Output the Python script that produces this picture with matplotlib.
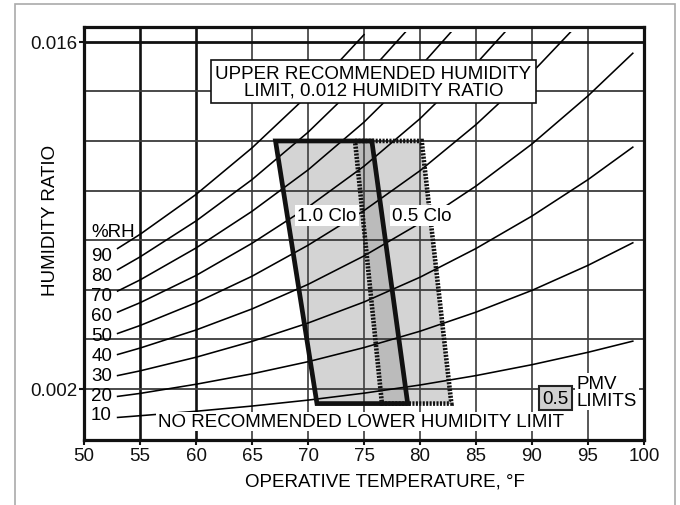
import numpy as np
import matplotlib
matplotlib.use("Agg")
import matplotlib.pyplot as plt
from matplotlib.patches import Polygon, Rectangle

plt.rcParams['font.family'] = ['Liberation Sans', 'DejaVu Sans']

temps_f = [53, 55, 60, 65, 70, 75, 80, 85, 90, 95, 99]
rh_levels = [10, 20, 30, 40, 50, 60, 70, 80, 90]

# humidity ratio along each RH curve
w_rh10 = [0.00084, 0.00091, 0.00109, 0.00130, 0.00154, 0.00182, 0.00215, 0.00253, 0.00297, 0.00347, 0.00392]
w_rh20 = [0.00169, 0.00181, 0.00218, 0.00260, 0.00309, 0.00366, 0.00432, 0.00509, 0.00597, 0.00698, 0.00789]
w_rh30 = [0.00253, 0.00272, 0.00327, 0.00391, 0.00465, 0.00550, 0.00650, 0.00766, 0.00897, 0.01044, 0.01175]
w_rh40 = [0.00338, 0.00364, 0.00437, 0.00522, 0.00621, 0.00736, 0.00868, 0.01018, 0.01188, 0.01382, 0.01554]
w_rh50 = [0.00423, 0.00455, 0.00547, 0.00654, 0.00779, 0.00919, 0.01080, 0.01266, 0.01476, 0.01714]
w_rh60 = [0.00509, 0.00547, 0.00657, 0.00787, 0.00933, 0.01098, 0.01290, 0.01511, 0.01760]
w_rh70 = [0.00594, 0.00639, 0.00768, 0.00916, 0.01083, 0.01276, 0.01499, 0.01753]
w_rh80 = [0.00680, 0.00732, 0.00877, 0.01044, 0.01235, 0.01454, 0.01705]
w_rh90 = [0.00766, 0.00823, 0.00984, 0.01172, 0.01385, 0.01629]
rh_curves = [w_rh10, w_rh20, w_rh30, w_rh40, w_rh50, w_rh60, w_rh70, w_rh80, w_rh90]

# comfort zones (PMV limits) for 1.0 clo and 0.5 clo
clo10_temp = [67.1, 75.7, 78.9, 70.8]
clo10_w = [0.012, 0.012, 0.0014, 0.0014]
clo05_temp = [74.2, 80.15, 82.8, 76.6]
clo05_w = [0.012, 0.012, 0.0014, 0.0014]

x_ticks = [50, 55, 60, 65, 70, 75, 80, 85, 90, 95, 100]
y_ticks = [0.002, 0.016]
y_grid = [0.002, 0.004, 0.006, 0.008, 0.010, 0.012, 0.014]

FS = 13.5

fig = plt.figure(figsize=(6.8, 5.06), dpi=100)
ax = fig.add_axes([84 / 680, 65 / 506, 560 / 680, 413 / 506])
ax.set_xlim(50, 100)
ax.set_ylim(-0.00007, 0.0166)

# grid
for t in x_ticks[1:-1]:
    if t in (55, 60):
        ax.axvline(t, color='#111111', lw=1.9, zorder=1)
    else:
        ax.axvline(t, color='#4a4a4a', lw=1.3, zorder=1)
for w in y_grid:
    ax.axhline(w, color='#3c3c3c', lw=1.3, zorder=1)
ax.axhline(0.016, color='#111111', lw=2.0, zorder=1.5)

# comfort zones
ax.add_patch(Polygon(list(zip(clo10_temp, clo10_w)), closed=True,
                     facecolor='#9a9a9a', alpha=0.42, edgecolor='none', zorder=0.2))
ax.add_patch(Polygon(list(zip(clo05_temp, clo05_w)), closed=True,
                     facecolor='#9a9a9a', alpha=0.42, edgecolor='none', zorder=0.2))

# RH curves, stopped just under the top of the frame
clip = Rectangle((40, -1), 70, 1.0164, transform=ax.transData)
for w_vals in rh_curves:
    line, = ax.plot(temps_f[:len(w_vals)], w_vals, color='black', lw=1.15, zorder=2)
    line.set_clip_path(clip)

# RH labels
label_w = np.linspace(0.00094, 0.00739, len(rh_levels))
for rh, lw_ in zip(rh_levels, label_w):
    ax.text(52.5, lw_, str(rh), ha='right', va='center', fontsize=FS, zorder=4)
ax.text(50.7, 0.00836, '%RH', ha='left', va='center', fontsize=FS, zorder=4)

# outlines
ax.add_patch(Polygon(list(zip(clo10_temp, clo10_w)), closed=True, fill=False,
                     edgecolor='#111111', lw=3.4, joinstyle='miter', zorder=3))
ax.add_patch(Polygon(list(zip(clo05_temp, clo05_w)), closed=True, fill=False,
                     edgecolor='#111111', lw=3.3, linestyle=(0, (0.45, 0.3)), zorder=3.1))

# annotations
ax.text(75.85, 0.01439, 'UPPER RECOMMENDED HUMIDITY\nLIMIT, 0.012 HUMIDITY RATIO',
        ha='center', va='center', multialignment='center', fontsize=FS, linespacing=1.0,
        bbox=dict(boxstyle='square,pad=0.25', facecolor='white', edgecolor='#111111', lw=1.2),
        zorder=4)
ax.text(71.7, 0.00899, '1.0 Clo', ha='center', va='center', fontsize=FS,
        bbox=dict(boxstyle='square,pad=0.1', facecolor='white', edgecolor='none'), zorder=4)
ax.text(80.13, 0.00899, '0.5 Clo', ha='center', va='center', fontsize=FS,
        bbox=dict(boxstyle='square,pad=0.1', facecolor='white', edgecolor='none'), zorder=4)
ax.text(74.69, 0.00069, 'NO RECOMMENDED LOWER HUMIDITY LIMIT', ha='center', va='center',
        fontsize=FS, bbox=dict(boxstyle='square,pad=0.06', facecolor='white', edgecolor='none'),
        zorder=4)

# PMV legend
ax.text(92.1, 0.00162, '0.5', ha='center', va='center', fontsize=FS,
        bbox=dict(boxstyle='square,pad=0.18', facecolor='#d0d0d0', edgecolor='#222222', lw=1.5),
        zorder=4)
ax.text(94.0, 0.00188, 'PMV\nLIMITS', ha='left', va='center', fontsize=FS, linespacing=1.0,
        bbox=dict(boxstyle='square,pad=0.08', facecolor='white', edgecolor='none'), zorder=4)

# axes styling
ax.set_xticks(x_ticks)
ax.set_yticks(y_ticks)
ax.set_yticklabels(['0.002', '0.016'])
ax.tick_params(direction='out', length=3.5, width=1.5, labelsize=FS, pad=1.5, colors='#111111')
for s in ax.spines.values():
    s.set_linewidth(2.3)
    s.set_color('#111111')
    s.set_zorder(5)

ax.set_xlabel('OPERATIVE TEMPERATURE, °F', fontsize=FS, va='center')
ax.xaxis.set_label_coords((384.5 - 84) / 560, (441 - 482) / 413)
ax.set_ylabel('HUMIDITY RATIO', fontsize=FS, va='center')
ax.yaxis.set_label_coords((51 - 84) / 560, (441 - 220) / 413)

# outer light frame
fig.patches.append(Rectangle((15 / 680, -0.1), 660 / 680, 1.1 - 5 / 506, transform=fig.transFigure,
                             fill=False, edgecolor='#aaaaaa', lw=1.2))

fig.savefig('out.png', dpi=100)
